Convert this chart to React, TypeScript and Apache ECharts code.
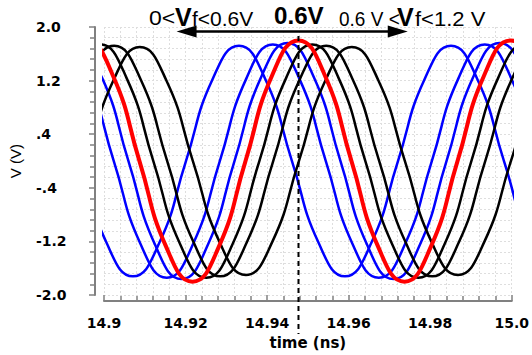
import React, { useEffect, useRef } from "react";
import * as echarts from "echarts";

// Tick labels
const xTickLabels = ["14.9", "14.92", "14.94", "14.96", "14.98", "15.0"];
const yTickLabels = ["-2.0", "-1.2", "-.4", ".4", "1.2", "2.0"];

// Waveforms: [time (ns), V]
const blue1: number[][] = [
  [14.8876, 1.216], [14.8941, 0], [14.9006, -1.216], [14.9071, -1.72], [14.9136, -1.216],
  [14.9201, 0], [14.9266, 1.216], [14.9331, 1.72], [14.9396, 1.216], [14.9461, 0],
  [14.9526, -1.216], [14.9591, -1.72], [14.9656, -1.216], [14.9721, 0], [14.9786, 1.216],
  [14.9851, 1.72], [14.9916, 1.216], [14.9981, 0], [15.0046, -1.216], [15.0111, -1.72],
];
const blue2: number[][] = [
  [14.8894, 1.74], [14.8959, 1.23], [14.9024, 0], [14.9089, -1.23], [14.9154, -1.74],
  [14.9219, -1.23], [14.9284, 0], [14.9349, 1.23], [14.9414, 1.74], [14.9479, 1.23],
  [14.9544, 0], [14.9609, -1.23], [14.9674, -1.74], [14.9739, -1.23], [14.9804, 0],
  [14.9869, 1.23], [14.9934, 1.74], [14.9999, 1.23], [15.0064, 0], [15.0129, -1.23],
];
const blue3: number[][] = [
  [14.893, 1.76], [14.8995, 1.245], [14.906, 0], [14.9125, -1.245], [14.919, -1.76],
  [14.9255, -1.245], [14.932, 0], [14.9385, 1.245], [14.945, 1.76], [14.9515, 1.245],
  [14.958, 0], [14.9645, -1.245], [14.971, -1.76], [14.9775, -1.245], [14.984, 0],
  [14.9905, 1.245], [14.997, 1.76], [15.0035, 1.245], [15.01, 0],
];
const red: number[][] = [
  [14.8892, 1.273], [14.8957, 1.8], [14.9022, 1.273], [14.9087, 0], [14.9152, -1.273],
  [14.9217, -1.8], [14.9282, -1.273], [14.9347, 0], [14.9412, 1.273], [14.9477, 1.8],
  [14.9542, 1.273], [14.9607, 0], [14.9672, -1.273], [14.9737, -1.8], [14.9802, -1.273],
  [14.9867, 0], [14.9932, 1.273], [14.9997, 1.8], [15.0062, 1.273], [15.0127, 0],
];
const black1: number[][] = [
  [14.8926, 1.23], [14.8991, 1.74], [14.9056, 1.23], [14.9121, 0], [14.9186, -1.23],
  [14.9251, -1.74], [14.9316, -1.23], [14.9381, 0], [14.9446, 1.23], [14.9511, 1.74],
  [14.9576, 1.23], [14.9641, 0], [14.9706, -1.23], [14.9771, -1.74], [14.9836, -1.23],
  [14.9901, 0], [14.9966, 1.23], [15.0031, 1.74], [15.0096, 1.23],
];
const black2: number[][] = [
  [14.8895, 0], [14.896, 1.216], [14.9025, 1.72], [14.909, 1.216], [14.9155, 0],
  [14.922, -1.216], [14.9285, -1.72], [14.935, -1.216], [14.9415, 0], [14.948, 1.216],
  [14.9545, 1.72], [14.961, 1.216], [14.9675, 0], [14.974, -1.216], [14.9805, -1.72],
  [14.987, -1.216], [14.9935, 0], [15.0, 1.216], [15.0065, 1.72], [15.013, 1.216],
];
const black3: number[][] = [
  [14.8893, -1.202], [14.8958, 0], [14.9023, 1.202], [14.9088, 1.7], [14.9153, 1.202],
  [14.9218, 0], [14.9283, -1.202], [14.9348, -1.7], [14.9413, -1.202], [14.9478, 0],
  [14.9543, 1.202], [14.9608, 1.7], [14.9673, 1.202], [14.9738, 0], [14.9803, -1.202],
  [14.9868, -1.7], [14.9933, -1.202], [14.9998, 0], [15.0063, 1.202], [15.0128, 1.7],
];

// Annotation anchors (time, ns)
const markerTime = 14.9477; // Vf = 0.6 V curve peak
const arrowRange = [14.9178, 14.9745];

const gridLine = { color: "#dedede", width: 1, type: [2, 2] as any };
const axisGray = "#808080";

export default function App() {
  const ref = useRef<HTMLDivElement>(null);
  useEffect(() => {
    if (!ref.current) return;
    const chart = echarts.init(ref.current, undefined, { renderer: "svg" });
    const mk = (name: string, data: number[][], color: string, width: number) => ({
      name,
      type: "line",
      data,
      xAxisIndex: 0,
      yAxisIndex: 0,
      showSymbol: false,
      smooth: 0.5,
      clip: true,
      lineStyle: { color, width },
      itemStyle: { color },
    });
    chart.setOption({
      animation: false,
      backgroundColor: "#ffffff",
      grid: { left: 104, right: 16, top: 27, bottom: 49 },
      xAxis: {
        type: "value",
        min: 14.9,
        max: 15.0,
        interval: 0.02,
        offset: 6,
        axisLine: { show: true, onZero: false, lineStyle: { color: axisGray, width: 2 } },
        axisTick: { show: true, inside: true, length: 6, lineStyle: { color: axisGray, width: 1.5 } },
        minorTick: { show: true, splitNumber: 5, length: 5, lineStyle: { color: axisGray, width: 1.5 } },
        splitLine: { show: true, lineStyle: gridLine },
        minorSplitLine: { show: true, lineStyle: gridLine },
        axisLabel: {
          color: "#000",
          fontFamily: "DejaVu Sans",
          fontWeight: "bold",
          fontSize: 14,
          margin: 15,
          showMinLabel: true,
          showMaxLabel: true,
          formatter: (v: number) => xTickLabels[Math.round((v - 14.9) / 0.02)] ?? "",
        },
        name: "time (ns)",
        nameLocation: "middle",
        nameGap: 29,
        nameTextStyle: { color: "#000", fontFamily: "DejaVu Sans", fontWeight: "bold", fontSize: 15 },
      },
      yAxis: [
        { type: "value", min: -2, max: 2, show: false, splitLine: { show: false } },
        {
          type: "value",
          position: "left",
          min: 0,
          max: 5,
          interval: 1,
          offset: 9,
          axisLine: { show: true, onZero: false, lineStyle: { color: axisGray, width: 2 } },
          axisTick: { show: true, inside: false, length: 6, lineStyle: { color: axisGray, width: 1.5 } },
          minorTick: { show: true, splitNumber: 5, length: 5, lineStyle: { color: axisGray, width: 1.5 } },
          splitLine: { show: true, lineStyle: gridLine },
          minorSplitLine: { show: true, lineStyle: gridLine },
          axisLabel: {
            color: "#000",
            fontFamily: "DejaVu Sans",
            fontWeight: "bold",
            fontSize: 14,
            align: "left",
            margin: 59,
            showMinLabel: true,
            showMaxLabel: true,
            formatter: (v: number) => yTickLabels[Math.round(v)] ?? "",
          },
          name: "V (V)",
          nameLocation: "middle",
          nameRotate: 90,
          nameGap: 72,
          nameTextStyle: { color: "#000", fontFamily: "Liberation Sans", fontSize: 15 },
        },
      ],
      series: [
        mk("blue1", blue1, "#0000ff", 2.5),
        mk("blue2", blue2, "#0000ff", 2.5),
        mk("blue3", blue3, "#0000ff", 2.5),
        mk("black1", black1, "#000000", 2.5),
        mk("black2", black2, "#000000", 2.5),
        mk("black3", black3, "#000000", 2.5),
        mk("red", red, "#ff0000", 4),
      ],
    });

    const xd = chart.convertToPixel({ xAxisIndex: 0 }, markerTime) as number;
    const xa = chart.convertToPixel({ xAxisIndex: 0 }, arrowRange[0]) as number;
    const xb = chart.convertToPixel({ xAxisIndex: 0 }, arrowRange[1]) as number;
    const ay = 31.5;
    const font = "Liberation Sans";
    const txt = (text: string, x: number, y: number, size: number, bold = false, sx = 1.1) => ({
      type: "text",
      x,
      y,
      scaleX: sx,
      style: {
        text,
        x: 0,
        y: 0,
        fill: "#000",
        font: `${bold ? "bold " : ""}${size}px "${font}"`,
        textAlign: "left",
        textVerticalAlign: "middle",
      },
      z: 100,
    });
    chart.setOption({
      graphic: [
        {
          type: "line",
          shape: { x1: xd, y1: 36, x2: xd, y2: 334 },
          style: { stroke: "#000", lineWidth: 2, lineDash: [5, 4] },
          z: 100,
        },
        {
          type: "line",
          shape: { x1: xa + 12, y1: ay, x2: xb - 12, y2: ay },
          style: { stroke: "#000", lineWidth: 2.5 },
          z: 100,
        },
        {
          type: "polygon",
          shape: { points: [[xa, ay], [xa + 20, ay - 6], [xa + 20, ay + 6]] },
          style: { fill: "#000" },
          z: 100,
        },
        {
          type: "polygon",
          shape: { points: [[xb, ay], [xb - 20, ay - 6], [xb - 20, ay + 6]] },
          style: { fill: "#000" },
          z: 100,
        },
        txt("0<", 149, 18.4, 20, false, 1.15),
        txt("V", 175, 16.7, 25, true, 1.0),
        txt("f<0.6V", 192, 18.4, 20, false, 1.05),
        txt("0.6V", 274, 16.4, 23, true, 1.05),
        txt("0.6 V <", 339, 18.4, 20, false, 0.95),
        txt("V", 397, 16.7, 25, true, 1.0),
        txt("f<1.2 V", 415, 18.4, 20, false, 1.1),
      ],
    });
    return () => chart.dispose();
  }, []);
  return (
    <div
      ref={ref}
      style={{ position: "fixed", left: 0, top: 0, width: 532, height: 355, background: "#fff" }}
    />
  );
}
